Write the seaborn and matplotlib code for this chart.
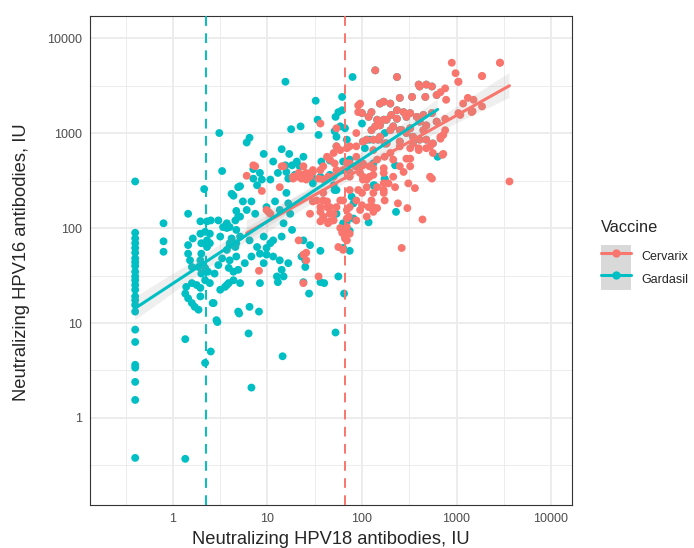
import numpy as np
import pandas as pd
import matplotlib
matplotlib.use("Agg")
import matplotlib.pyplot as plt
from matplotlib.lines import Line2D
from matplotlib.patches import Patch
import seaborn as sns

# --- data: log10 of neutralizing titres (IU) ---
gardasil_hpv18_log10 = [
    -0.40, -0.40, -0.40, -0.40, -0.40, -0.40, -0.40, -0.40, -0.40, -0.40,
    -0.40, -0.40, -0.40, -0.40, -0.40, -0.40, -0.40, -0.40, -0.40, -0.40,
    -0.40, -0.40, -0.40, -0.40, -0.40, -0.10, -0.10, -0.10,
    0.16, 0.33, 0.49, 0.52, 0.64, 0.69, 0.67, 0.69, 0.29, 0.36,
    0.40, 0.48, 0.29, 0.34, 0.39, 0.36, 0.30, 0.21, 0.50, 0.57,
    0.60, 0.67, 0.62, 0.60, 0.67, 0.16, 0.36, 0.16, 0.18, 0.20,
    0.27, 0.29, 0.30, 0.39, 0.13, 0.16, 0.20, 0.23, 0.27, 0.14,
    0.20, 0.25, 0.29, 0.29, 0.30, 0.34, 0.37, 0.34, 0.39, 0.43,
    0.46, 0.13, 0.44, 0.48, 0.52, 0.50, 0.55, 0.59, 0.64, 0.59,
    0.64, 0.60, 0.67, 0.57, 0.60, 0.66, 0.69, 0.34, 0.40, 0.47,
    0.42, 0.70, 0.80, 0.83, 0.81, 0.91, 1.16, 1.72, 1.81, 1.75,
    1.60, 1.44, 1.38, 1.40, 1.22, 1.10, 1.11, 0.96, 0.99, 1.06,
    1.56, 1.87, 0.13, 2.36, 2.07, 1.87, 1.80, 2.12, 2.24, 1.89,
    1.91, 1.91, 1.73, 1.80, 1.84, 1.71, 1.70, 0.92, 0.85, 0.62,
    0.74, 0.83, 0.78, 0.87, 0.71, 0.66, 0.57, 1.03, 1.11, 1.20,
    1.22, 1.24, 1.17, 1.26, 1.15, 1.06, 0.99, 0.92, 0.83, 0.76,
    0.69, 0.57, 1.38, 1.45, 1.36, 1.40, 1.56, 1.38, 1.13, 1.15,
    1.17, 0.92, 0.71, 0.96, 1.03, 0.89, 0.81, 0.71, 0.53, 1.56,
    1.66, 1.73, 1.48, 1.08, 0.99, 1.13, 1.19, 1.51, 1.53, 1.25,
    1.35, 1.54, 0.81, 0.78, 1.72, 1.75, 1.71, 1.77, 1.73, 1.15,
    1.23, 0.96, 1.06, 1.19, 1.26, 1.31, 1.34, 1.38, 0.85, 0.94,
    0.89, 0.71, 1.20, 1.22, 1.29, 1.47, 1.57, 1.66, 1.73, 1.90,
    1.79, 1.79, 2.00, 2.08, 2.24, 1.82, 1.84, 2.03, 2.12, 2.35,
    2.24, 2.80, 1.80, 1.87, 2.13,
    # Gardasil points overplotted by Cervarix points (not visible, but they
    # carry the Gardasil fit out to ~600 IU)
    2.14, 2.23, 2.19, 2.23, 2.07, 2.14, 2.19, 2.05, 2.10, 2.37,
    2.61, 2.68, 2.74, 2.40, 2.53, 2.67, 2.79, 2.30, 2.37, 2.44,
    2.51, 2.58, 2.65, 2.74, 2.16, 2.26, 2.33, 2.40, 2.47, 2.54,
    2.61, 2.68, 2.75, 2.17, 2.60, 2.00, 2.10, 2.31, 2.37, 2.47,
    2.61, 2.68, 2.79, 2.19, 2.30, 2.42, 2.51, 2.65, 2.01, 2.12,
    2.24, 2.40, 2.54, 2.26,
]
gardasil_hpv16_log10 = [
    2.49, 1.95, 1.89, 1.84, 1.79, 1.74, 1.68, 1.64, 1.60, 1.54,
    1.49, 1.45, 1.40, 1.35, 1.28, 1.24, 1.19, 1.12, 0.93, 0.80,
    0.56, 0.53, 0.38, 0.19, -0.42, 2.05, 1.86, 1.75,
    2.15, 2.41, 3.00, 2.60, 2.34, 2.43, 2.18, 2.12, 2.07, 2.07,
    2.08, 2.08, 1.94, 1.96, 1.94, 1.87, 1.84, 1.89, 1.91, 2.00,
    2.01, 1.98, 1.89, 1.84, 1.84, 1.82, 1.80, 1.73, 1.66, 1.59,
    1.59, 1.66, 1.73, 1.84, 1.31, 1.26, 1.21, 1.17, 1.14, 1.38,
    1.42, 1.40, 1.37, 1.28, 1.52, 1.58, 1.54, 1.45, 1.42, 1.21,
    1.03, 0.83, 1.52, 1.61, 1.68, 1.35, 1.38, 1.42, 1.45, 1.58,
    1.54, 1.66, 1.70, 1.77, 1.82, 1.80, 1.12, 0.58, 0.70, 1.01,
    1.21, 1.10, 0.89, 0.32, 1.17, 1.12, 0.65, 0.90, 1.31, 1.49,
    1.42, 1.31, 1.71, 1.66, 1.63, 1.49, 1.43, 1.63, 1.72, 1.70,
    1.76, 1.76, -0.43, 2.17, 2.06, 1.97, 1.79, 2.45, 2.51, 2.33,
    2.26, 2.10, 2.15, 2.05, 2.07, 2.40, 2.45, 2.58, 2.52, 2.36,
    2.28, 2.28, 2.19, 2.15, 2.12, 2.08, 2.05, 2.51, 2.58, 2.37,
    2.26, 2.15, 2.05, 1.98, 1.91, 1.87, 1.79, 1.73, 1.70, 1.63,
    1.56, 1.40, 1.87, 1.82, 1.70, 1.59, 1.43, 1.43, 1.66, 1.56,
    1.49, 1.42, 1.42, 1.91, 1.84, 1.80, 1.87, 1.91, 2.01, 2.54,
    2.56, 2.40, 2.47, 2.28, 2.22, 2.19, 3.54, 3.34, 3.14, 3.04,
    3.07, 2.98, 2.95, 2.90, 3.17, 3.22, 3.02, 3.07, 2.96, 2.83,
    2.78, 2.78, 2.70, 2.66, 2.66, 2.70, 2.65, 2.75, 2.62, 2.51,
    2.45, 2.44, 2.59, 2.52, 2.56, 2.54, 2.70, 2.71, 2.86, 3.59,
    3.38, 3.24, 3.10, 2.93, 3.00, 3.05, 2.93, 2.84, 2.68, 2.66,
    2.52, 2.75, 2.70, 2.72, 2.45,
    3.66, 3.14, 3.31, 3.33, 3.17, 3.07, 2.96, 2.93, 3.03, 3.59,
    3.49, 3.51, 3.49, 3.37, 3.38, 3.38, 3.40, 3.31, 3.24, 3.22,
    3.21, 3.17, 3.19, 3.21, 3.14, 3.14, 3.07, 3.03, 3.00, 2.96,
    2.93, 2.93, 2.89, 2.93, 3.51, 3.21, 3.22, 3.19, 3.15, 3.17,
    3.12, 3.08, 3.12, 3.08, 3.03, 3.03, 3.05, 3.03, 2.91, 2.93,
    2.89, 2.91, 2.89, 2.89,
]

cervarix_hpv18_log10 = [
    0.78, 0.94, 1.01, 1.13, 1.33, 1.41, 1.54, 1.38, 0.91, 1.27,
    1.36, 1.45, 1.48, 1.56, 1.63, 1.66, 1.59, 1.56, 1.70, 1.64,
    1.73, 2.14, 1.56, 1.73, 1.84, 1.94, 2.05, 2.10, 2.23, 2.19,
    2.23, 1.98, 1.96, 2.07, 2.14, 2.19, 2.16, 1.63, 1.56, 1.48,
    1.38, 1.31, 1.41, 1.59, 1.70, 1.80, 1.87, 1.94, 0.85, 1.15,
    1.27, 1.52, 1.59, 1.66, 1.77, 1.87, 1.94, 2.01, 2.08, 2.16,
    2.23, 2.12, 2.05, 1.94, 1.84, 1.77, 1.66, 1.59, 1.56, 1.45,
    1.79, 1.82, 1.80, 1.38, 1.41, 2.37, 2.95, 3.46, 2.99, 3.02,
    3.27, 2.61, 2.68, 2.74, 2.83, 2.88, 2.89, 2.40, 2.53, 2.67,
    2.79, 2.30, 2.37, 2.44, 2.51, 2.58, 2.65, 2.74, 1.96, 2.16,
    2.26, 2.33, 2.40, 2.47, 2.54, 2.61, 2.68, 2.75, 2.83, 2.86,
    2.17, 2.26, 2.40, 2.51, 2.60, 2.68, 2.75, 2.86, 3.04, 3.17,
    3.27, 3.12, 3.56, 2.74, 2.56, 2.49, 2.64, 2.42, 2.48, 2.38,
    2.51, 2.40, 2.33, 2.24, 2.12, 2.23, 2.28, 2.23, 2.12, 2.05,
    2.00, 1.98, 1.87, 1.93, 2.01, 2.10, 2.07, 1.98, 1.87, 1.84,
    1.87, 1.70, 1.63, 1.59, 1.84, 1.75, 3.07, 3.18, 3.02, 3.16,
    2.85, 2.23, 2.35, 2.24, 2.16, 2.12, 2.00, 1.96, 2.05, 1.80,
    1.82, 1.86, 1.84, 1.80, 0.87, 1.17, 1.36, 1.48, 1.59, 1.66,
    1.71, 1.64, 1.54, 1.41, 1.33, 1.73, 2.60, 2.00, 2.10, 2.31,
    2.37, 2.47, 2.61, 2.68, 2.79, 2.88, 2.19, 2.30, 2.42, 2.51,
    2.65, 2.88, 1.94, 2.01, 2.12, 2.24, 2.40, 2.54, 2.83, 2.12,
    2.30, 2.47, 2.60, 2.72, 1.87, 1.77, 1.70, 1.84, 1.98, 2.08,
    2.23, 2.51, 1.87, 1.73, 2.01, 2.12, 2.33, 2.44, 2.72, 0.99,
    1.03,
    # repeated titres (overplotted)
    3.46, 3.27, 3.02,
]
cervarix_hpv16_log10 = [
    2.55, 2.39, 2.17, 2.43, 1.87, 1.74, 1.49, 1.42, 1.55, 2.54,
    2.56, 2.54, 2.28, 2.22, 2.28, 2.15, 2.12, 2.07, 2.08, 2.05,
    2.22, 3.66, 3.10, 2.86, 2.84, 2.86, 2.93, 3.03, 3.14, 3.31,
    3.33, 3.31, 3.22, 3.17, 3.07, 2.96, 2.72, 2.75, 2.61, 2.59,
    2.65, 2.54, 2.51, 2.51, 2.54, 2.61, 2.68, 2.75, 2.66, 2.65,
    2.52, 2.29, 2.37, 2.22, 2.29, 2.40, 2.29, 2.51, 2.54, 2.43,
    2.37, 2.22, 2.12, 2.08, 2.01, 2.00, 2.07, 2.10, 2.17, 2.15,
    1.95, 1.91, 1.77, 1.72, 1.66, 3.59, 3.74, 3.74, 3.63, 3.54,
    3.60, 3.49, 3.51, 3.49, 3.43, 3.47, 3.35, 3.37, 3.38, 3.38,
    3.40, 3.31, 3.24, 3.22, 3.21, 3.17, 3.19, 3.21, 3.29, 3.14,
    3.14, 3.07, 3.03, 3.00, 2.96, 2.93, 2.93, 2.89, 2.96, 2.98,
    2.93, 2.89, 2.86, 2.84, 2.84, 2.84, 2.79, 2.78, 3.19, 3.23,
    3.28, 3.37, 2.49, 2.52, 2.42, 2.47, 2.09, 1.79, 2.21, 2.26,
    2.65, 2.65, 2.72, 2.75, 2.63, 2.58, 2.47, 2.40, 2.37, 2.43,
    2.37, 2.58, 2.54, 2.65, 2.68, 2.29, 2.22, 2.19, 2.22, 2.10,
    1.94, 2.15, 2.22, 2.29, 1.87, 1.80, 3.31, 3.35, 3.21, 3.22,
    2.77, 2.47, 2.43, 2.29, 2.21, 2.17, 2.24, 2.40, 2.51, 1.96,
    1.89, 2.12, 2.19, 2.29, 2.65, 2.65, 2.52, 2.61, 2.65, 2.72,
    2.68, 2.54, 2.52, 2.58, 2.58, 3.05, 3.51, 3.21, 3.22, 3.19,
    3.15, 3.17, 3.12, 3.08, 3.12, 3.15, 3.08, 3.03, 3.03, 3.05,
    3.03, 3.03, 3.00, 2.91, 2.93, 2.89, 2.91, 2.89, 2.94, 2.82,
    2.79, 2.73, 2.82, 2.86, 2.86, 2.82, 2.79, 2.68, 2.66, 2.65,
    2.63, 2.73, 2.59, 2.61, 2.54, 2.56, 2.54, 2.59, 2.54, 2.19,
    2.15,
    3.74, 3.60, 3.54,
]

vaccines = ["Cervarix", "Gardasil"]
colors = {"Cervarix": "#F8766D", "Gardasil": "#00BFC4"}
cutoff_log10 = {"Cervarix": 1.82, "Gardasil": 0.35}   # ~66 IU and ~2.2 IU
tick_labels = ["1", "10", "100", "1000", "10000"]

# Gardasil rows first so Cervarix points sit on top, like the original
df = pd.concat([
    pd.DataFrame({"hpv18": gardasil_hpv18_log10, "hpv16": gardasil_hpv16_log10, "Vaccine": "Gardasil"}),
    pd.DataFrame({"hpv18": cervarix_hpv18_log10, "hpv16": cervarix_hpv16_log10, "Vaccine": "Cervarix"}),
], ignore_index=True)

sns.set_style("white")
plt.rcParams["font.family"] = ["Liberation Sans", "DejaVu Sans"]

fig = plt.figure(figsize=(6.94, 5.48), dpi=100)
ax = fig.add_axes([90 / 694, 1 - 505 / 548, 482 / 694, 489 / 548])

sns.scatterplot(data=df, x="hpv18", y="hpv16", hue="Vaccine", palette=colors,
                s=32, linewidth=0, legend=False, ax=ax, zorder=2)

for v in vaccines:
    n_before = len(ax.collections)
    sns.regplot(data=df[df.Vaccine == v], x="hpv18", y="hpv16", scatter=False,
                color=colors[v], ci=95, n_boot=1000, seed=1, truncate=True,
                line_kws={"lw": 2.2, "zorder": 4}, ax=ax)
    for coll in ax.collections[n_before:]:
        coll.set_facecolor((0.6, 0.6, 0.6, 0.4))
        coll.set_edgecolor("none")
        coll.set_zorder(3)

for v in vaccines:
    ax.axvline(cutoff_log10[v], color=colors[v], lw=1.4, ls=(0, (5, 3.8)), zorder=5)

ax.set_xlim(-0.878, 4.222)
ax.set_ylim(-0.916, 4.232)
ax.set_xticks(range(5))
ax.set_xticklabels(tick_labels)
ax.set_yticks(range(5))
ax.set_yticklabels(tick_labels)
ax.set_xticks(np.arange(-0.5, 4.0, 1.0), minor=True)
ax.set_yticks(np.arange(-0.5, 4.0, 1.0), minor=True)
ax.grid(which="major", color="#EBEBEB", lw=1.3, zorder=0)
ax.grid(which="minor", color="#EBEBEB", lw=0.65, zorder=0)
ax.set_axisbelow(True)
ax.tick_params(which="major", length=3, width=0.8, color="#333333",
               labelsize=9, labelcolor="#4D4D4D", pad=2.5)
ax.tick_params(which="minor", length=0)
for s in ax.spines.values():
    s.set_color("#333333")
    s.set_linewidth(0.8)
ax.set_xlabel("")
ax.set_ylabel("")

fig.text(331 / 694, 1 - 544 / 548, "Neutralizing HPV18 antibodies, IU",
         ha="center", va="baseline", fontsize=13.2)
fig.text(22 / 694, 1 - 262 / 548, "Neutralizing HPV16 antibodies, IU",
         ha="center", va="center", rotation=90, fontsize=13.2)

# legend, ggplot-like keys on a grey background
fig.text(601 / 694, 1 - 228 / 548, "Vaccine", ha="left", va="center", fontsize=11.8)
handles = [(Patch(facecolor="#D9D9D9", edgecolor="none"),
            Line2D([], [], color=colors[v], lw=2.2, marker="o", markersize=5))
           for v in vaccines]
fig.legend(handles, vaccines, loc="upper left",
           bbox_to_anchor=(601 / 694, 1 - 245 / 548), frameon=False,
           fontsize=9, borderpad=0, borderaxespad=0, labelspacing=0,
           handlelength=2.4, handleheight=2.4, handletextpad=0.8)

fig.savefig("out.png", dpi=100)
